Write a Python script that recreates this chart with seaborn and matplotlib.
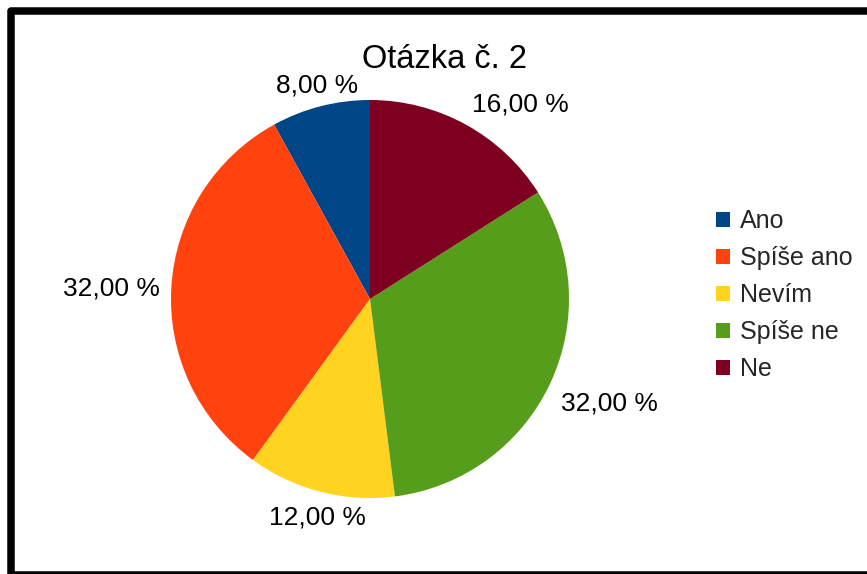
import numpy as np
import matplotlib
matplotlib.use('Agg')
import matplotlib.pyplot as plt
import seaborn as sns
from matplotlib.patches import Rectangle, Patch

sns.set_theme(style='white')
plt.rcParams['font.family'] = ['Liberation Sans', 'DejaVu Sans']

categories = ['Ano', 'Spíše ano', 'Nevím', 'Spíše ne', 'Ne']
shares = [8.0, 32.0, 12.0, 32.0, 16.0]
colors = ['#004586', '#ff420e', '#ffd320', '#579d1c', '#7e0021']
title = 'Otázka č. 2'

W, H = 867, 574
fig = plt.figure(figsize=(W / 100, H / 100), dpi=100)
fig.patch.set_facecolor('white')

# pie axes: centre (370, 299) px, radius 199 px
cx, cy, r = 370, 299, 199
ax = fig.add_axes([(cx - r) / W, (H - cy - r) / H, 2 * r / W, 2 * r / H])
wedges, _ = ax.pie(shares, colors=colors, startangle=90, counterclock=True,
                   radius=1.0, wedgeprops=dict(linewidth=0))
ax.set_xlim(-1, 1)
ax.set_ylim(-1, 1)
ax.set_aspect('equal')
ax.axis('off')

# percentage labels outside the slices
for w, val in zip(wedges, shares):
    ang = np.deg2rad((w.theta1 + w.theta2) / 2)
    c, s = np.cos(ang), np.sin(ang)
    ha = 'left' if c > 0.3 else ('right' if c < -0.3 else 'center')
    va = 'bottom' if s > 0.3 else ('top' if s < -0.3 else 'center')
    ax.text(1.06 * c, 1.06 * s - 0.012, f'{val:.2f} %'.replace('.', ','),
            ha=ha, va=va, fontsize=19, color='black', clip_on=False)

fig.text(445 / W, 1 - 60 / H, title, ha='center', va='center',
         fontsize=23.5, color='black')

handles = [Patch(facecolor=col, edgecolor='none', label=cat)
           for cat, col in zip(categories, colors)]
fig.legend(handles=handles, loc='upper left',
           bbox_to_anchor=(716 / W, 1 - 209.5 / H), frameon=False,
           fontsize=18, handlelength=0.56, handleheight=0.56,
           handletextpad=0.4, labelspacing=0.52, borderpad=0,
           borderaxespad=0)

# outer frame (cut off on the right and bottom)
fig.patches.append(Rectangle((11.3 / W, -1 / H), 2, (H - 11 + 1) / H,
                             transform=fig.transFigure, fill=False,
                             edgecolor='black', linewidth=5.4,
                             joinstyle='round'))

fig.savefig('out.png', dpi=100)
